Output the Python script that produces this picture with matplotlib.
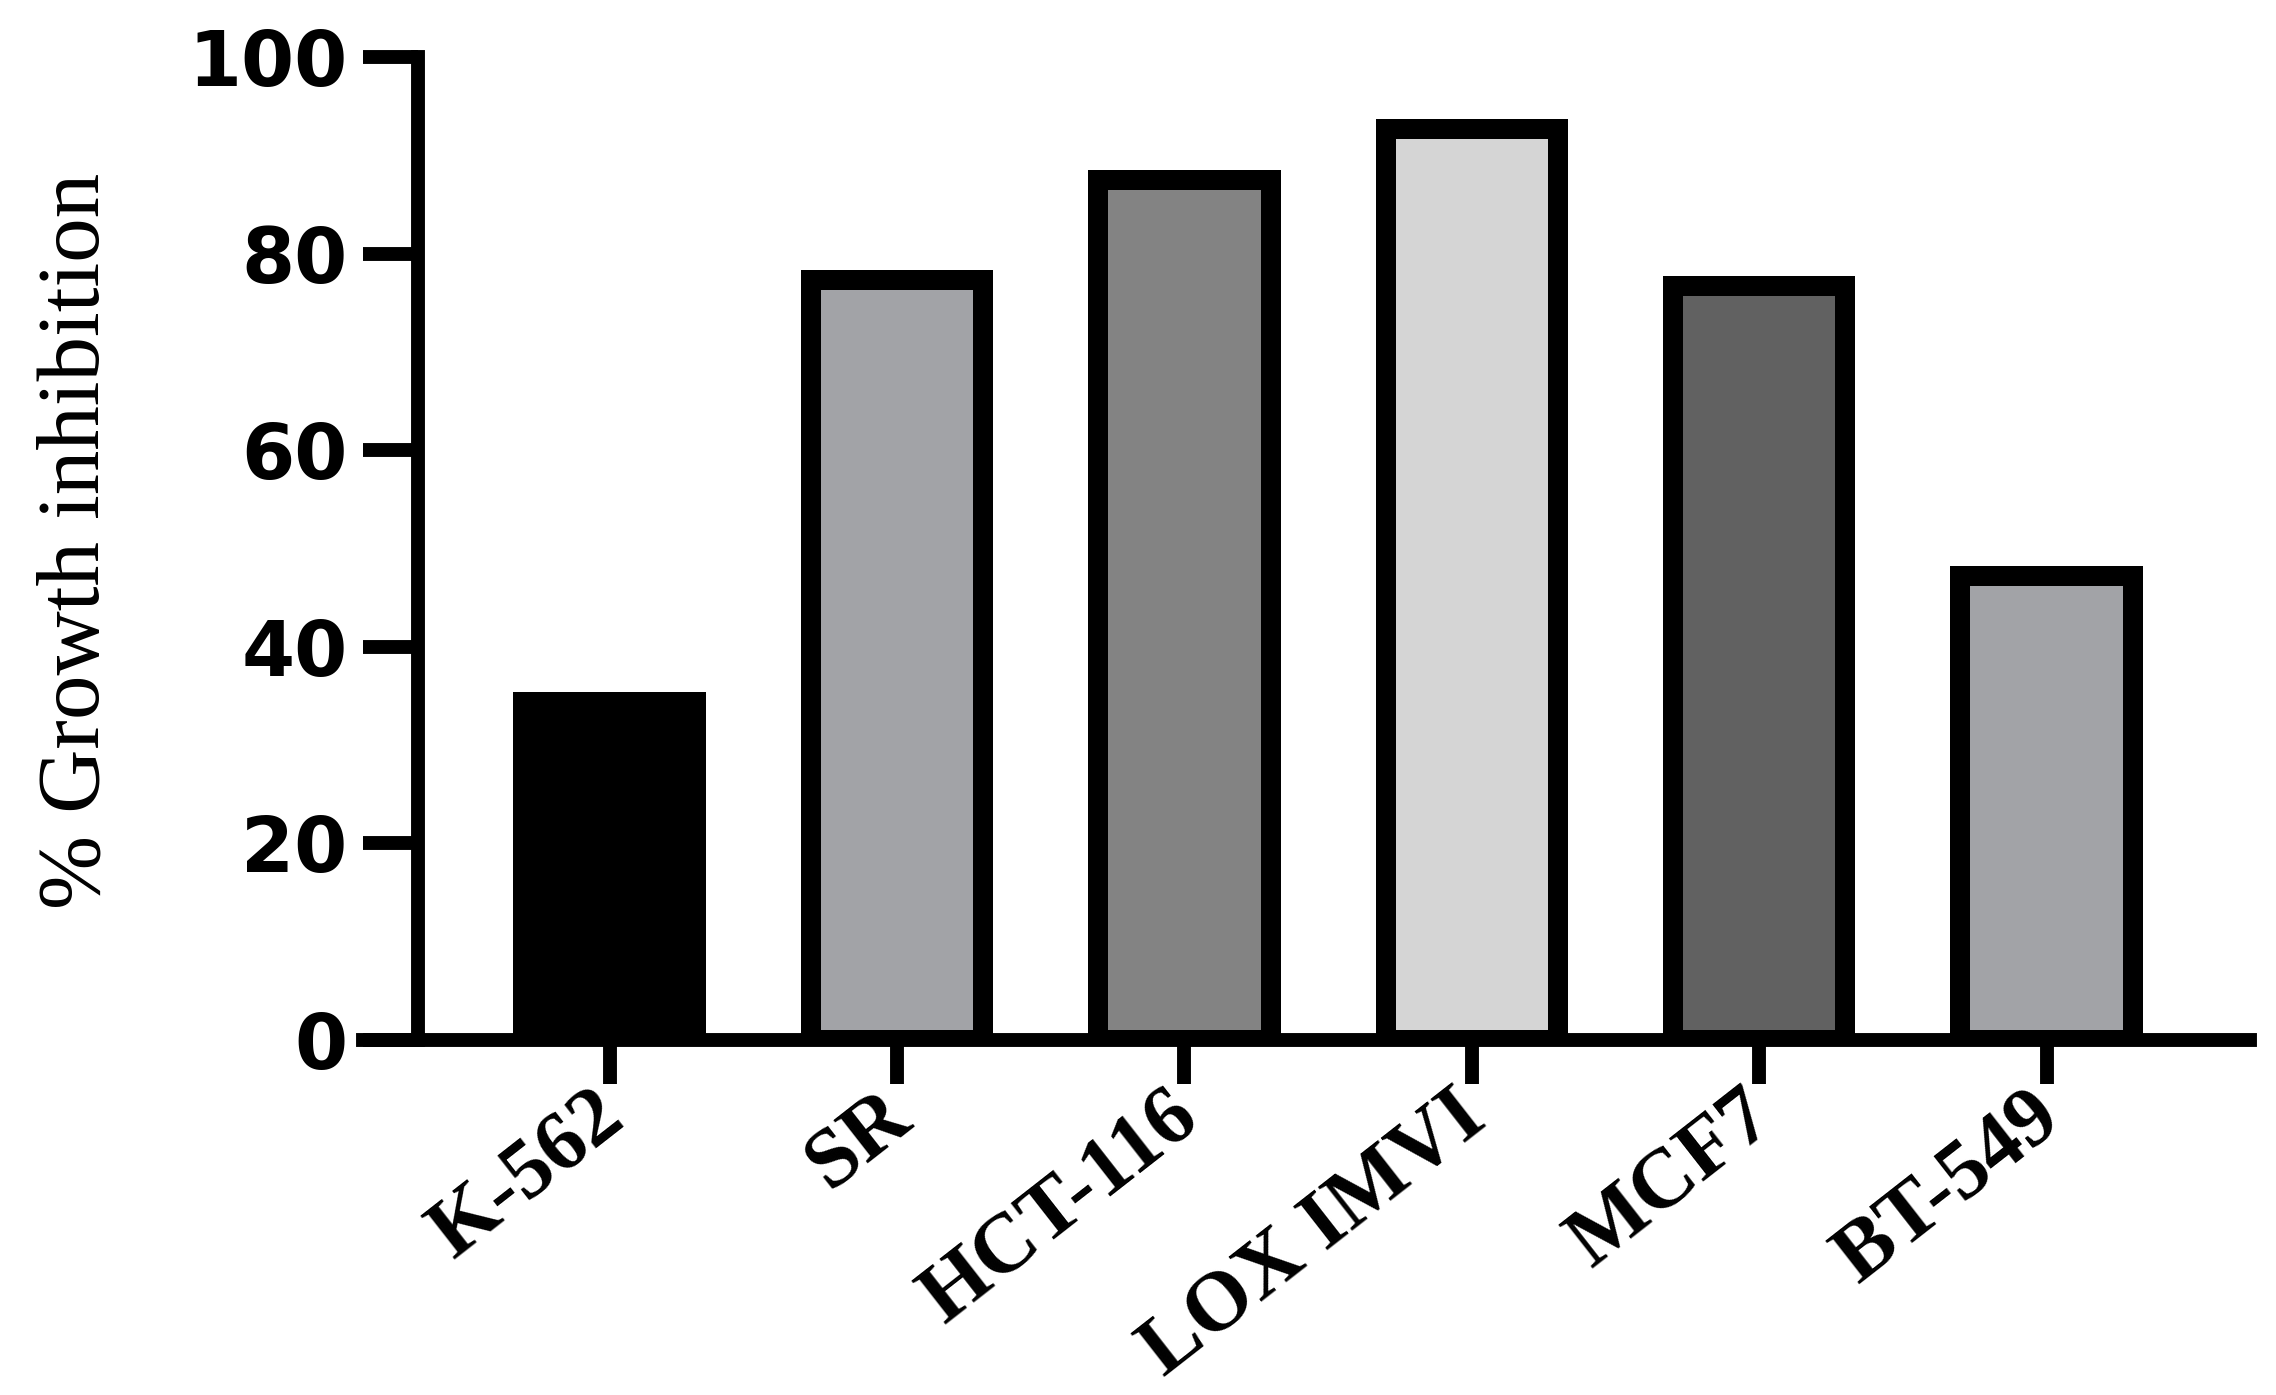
import matplotlib
matplotlib.use("Agg")
import matplotlib.pyplot as plt
from matplotlib.transforms import ScaledTranslation

# --- Data ---
cell_lines = ["K-562", "SR", "HCT-116", "LOX IMVI", "MCF7", "BT-549"]
inhibition = [34.4, 77.3, 87.5, 92.7, 76.7, 47.2]
bar_colors = ["#000000", "#a2a3a7", "#838383", "#d5d5d5", "#616161", "#a2a3a7"]
y_ticks = [0, 20, 40, 60, 80, 100]

DPI = 100
fig = plt.figure(figsize=(22.76, 13.95), dpi=DPI)
ax = fig.add_axes([0.1595, 0.2548, 0.9886 - 0.1595, 0.9591 - 0.2548])

x = list(range(len(cell_lines)))
ax.bar(x, inhibition, width=0.6, color=bar_colors, edgecolor="black",
       linewidth=14.4, zorder=2)

# GraphPad-like axes: x axis runs past the y axis to the end of the y ticks
ax.set_xlim(-0.858, 5.708)
ax.set_ylim(0, 100)
ax.spines["left"].set_position(("data", -0.667))
ax.spines["top"].set_visible(False)
ax.spines["right"].set_visible(False)
for side in ["left", "bottom"]:
    ax.spines[side].set_linewidth(10)
    ax.spines[side].set_capstyle("projecting")
    ax.spines[side].set_zorder(3)

ax.set_yticks(y_ticks)
ax.set_yticklabels([str(t) for t in y_ticks], fontfamily="DejaVu Sans",
                   fontweight="bold", fontsize=55)
ax.tick_params(axis="y", length=39.6, width=10, pad=11, color="black")

ax.set_xticks(x)
ax.set_xticklabels(cell_lines, rotation=38, ha="right", va="baseline",
                   rotation_mode="anchor", fontfamily="Liberation Serif",
                   fontweight="bold", fontsize=61)
ax.tick_params(axis="x", length=31.7, width=10, pad=29, color="black")
shift = ScaledTranslation(18 / DPI, 0, fig.dpi_scale_trans)
for lbl in ax.get_xticklabels():
    lbl.set_transform(lbl.get_transform() + shift)

ax.set_ylabel("% Growth inhibition", fontfamily="Liberation Serif",
              fontsize=64)
ax.yaxis.set_label_coords(-0.13, 0.508)

fig.savefig("out.png", dpi=DPI, facecolor="white")
